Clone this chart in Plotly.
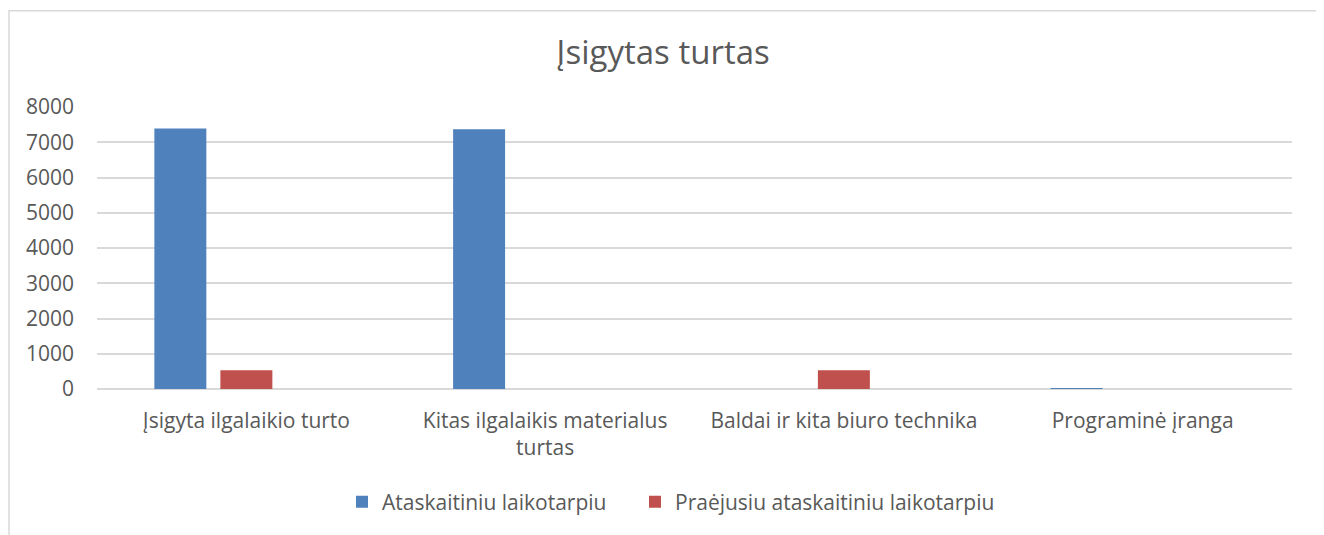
import plotly.graph_objects as go

categories = ["Įsigyta ilgalaikio turto", "Kitas ilgalaikis materialus<br>turtas",
              "Baldai ir kita biuro technika", "Programinė įranga"]
series_names = ["Ataskaitiniu laikotarpiu", "Praėjusiu ataskaitiniu laikotarpiu"]
current_vals = [7390, 7370, 0, 20]
previous_vals = [530, 0, 535, 0]
y_ticks = [0, 1000, 2000, 3000, 4000, 5000, 6000, 7000, 8000]

FONT = "Open Sans"
TXT = "#595959"
GRID = "#D9D9D9"

# page has an 8px body margin; work in figure coordinates (page - 8)
OFF = 8
W, H = 1324 - OFF, 535 - OFF
L, T = 97 - OFF, 107 - OFF
PR, PB = 1292 - OFF, 391 - OFF
R, B = W - PR, H - PB
pw, ph = PR - L, PB - T

bar_w = 0.174
fig = go.Figure()
fig.add_trace(go.Bar(x=categories, y=current_vals, name=series_names[0],
                     marker=dict(color="#4F81BD", line=dict(width=0)),
                     width=bar_w, offset=-0.221 - bar_w / 2, legend="legend"))
fig.add_trace(go.Bar(x=categories, y=previous_vals, name=series_names[1],
                     marker=dict(color="#C0504D", line=dict(width=0)),
                     width=bar_w, offset=-bar_w / 2, legend="legend2"))

def py(page_y):
    return (PB - (page_y - OFF)) / ph

def px(page_x):
    return ((page_x - OFF) - L) / pw

leg_common = dict(orientation="h", xanchor="left", yanchor="middle", y=py(505),
                  font=dict(family=FONT, size=21, color=TXT),
                  bgcolor="rgba(0,0,0,0)")

fig.update_layout(
    width=W, height=H,
    margin=dict(l=L, r=R, t=T, b=B),
    paper_bgcolor="white", plot_bgcolor="white",
    barmode="overlay",
    font=dict(family=FONT, color=TXT, size=21),
    title=dict(text="Įsigytas turtas", x=px(663), xref="paper", xanchor="center",
               y=1 - (52 - OFF) / H, yref="container", yanchor="middle",
               font=dict(family=FONT, size=33, color=TXT)),
    showlegend=True,
    legend=dict(x=px(342), **leg_common),
    legend2=dict(x=px(635), **leg_common),
    xaxis=dict(type="category", showgrid=False, showline=False, zeroline=False,
               ticks="", ticklabelstandoff=17,
               tickfont=dict(family=FONT, size=21, color=TXT),
               range=[-0.5, 3.5]),
    yaxis=dict(range=[0, 8000], tickvals=y_ticks, showgrid=True, gridcolor=GRID,
               gridwidth=1.5, zeroline=True, zerolinecolor=GRID, zerolinewidth=1.5,
               showline=False, ticks="", ticklabelstandoff=22,
               tickfont=dict(family=FONT, size=21, color=TXT)),
    shapes=[dict(type="rect", xref="paper", yref="paper",
                 x0=px(9), x1=px(1320.5),
                 y0=py(560), y1=py(10),
                 line=dict(color=GRID, width=1.5), fillcolor="rgba(0,0,0,0)",
                 layer="below")],
)

fig.write_html("out.html")
